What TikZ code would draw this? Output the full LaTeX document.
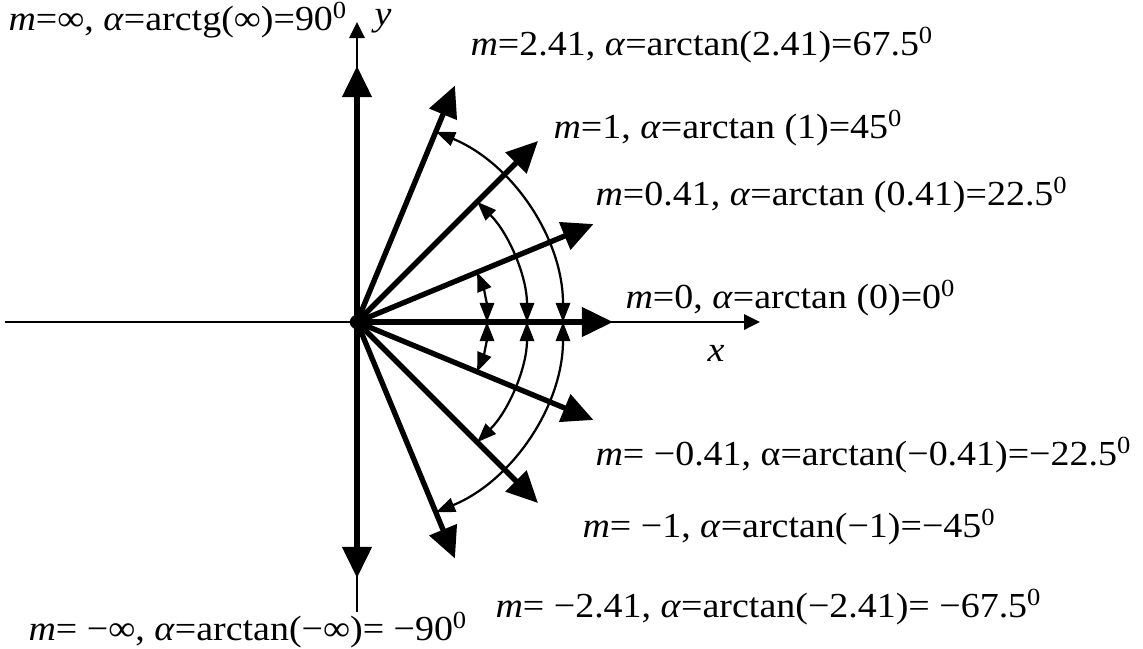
\documentclass[tikz,border=0pt]{standalone}
\usepackage{fontspec}
\setmainfont{Liberation Serif}[FakeStretch=1.08]
\usetikzlibrary{arrows.meta}

\begin{document}
\begin{tikzpicture}[x=1.25cm, y=1.25cm,
  >={Triangle[length=3.9mm, width=3.6mm]},
  rayo/.style={->, line width=1.9pt},
  eje/.style={-{Triangle[length=2mm, width=1.9mm]}, line width=1pt},
  arco/.style={{Triangle[length=2.4mm, width=1.8mm]}-{Triangle[length=2.4mm, width=1.8mm]},
               line width=0.8pt},
  etiq/.style={anchor=west, inner sep=0pt, font=\fontsize{12.5}{14}\selectfont}]

  \useasboundingbox (-3.57,-3.26) rectangle (7.86,3.22);

  \node[circle, fill, minimum size=0.18cm, inner sep=0pt] (O) at (0,0) {};

  % ejes
  \coordinate (xi) at (-3.52,0);
  \coordinate (xf) at (4.03,0);
  \coordinate (yi) at (0,-2.90);
  \coordinate (yf) at (0,3.00);
  \draw[eje] (xi) -- (xf);
  \draw[eje] (yi) -- (yf);
  \node[etiq] (ex) at (3.50,-0.31) {\textit{x}};
  \node[etiq] (ey) at (0.17,3.01) {\textit{y}};

  % rayos
  \coordinate (p90) at (90:2.56);
  \coordinate (p67) at (67.5:2.56);
  \coordinate (p45) at (45:2.56);
  \coordinate (p22) at (22.5:2.56);
  \coordinate (p0) at (0:2.56);
  \coordinate (n22) at (-22.5:2.56);
  \coordinate (n45) at (-45:2.56);
  \coordinate (n67) at (-67.5:2.56);
  \coordinate (n90) at (-90:2.56);
  \draw[rayo] (O.center) -- (p90);
  \draw[rayo] (O.center) -- (p67);
  \draw[rayo] (O.center) -- (p45);
  \draw[rayo] (O.center) -- (p22);
  \draw[rayo] (O.center) -- (p0);
  \draw[rayo] (O.center) -- (n22);
  \draw[rayo] (O.center) -- (n45);
  \draw[rayo] (O.center) -- (n67);
  \draw[rayo] (O.center) -- (n90);

  % arcos
  \coordinate (a1) at (0:1.30);
  \coordinate (a2) at (0:1.70);
  \coordinate (a3) at (0:2.06);
  \draw[arco] (a1) arc[start angle=0, end angle=22.5, radius=1.30];
  \draw[arco] (a1) arc[start angle=0, end angle=-22.5, radius=1.30];
  \draw[arco] (a2) arc[start angle=0, end angle=45, radius=1.70];
  \draw[arco] (a2) arc[start angle=0, end angle=-45, radius=1.70];
  \draw[arco] (a3) arc[start angle=0, end angle=67.5, radius=2.06];
  \draw[arco] (a3) arc[start angle=0, end angle=-67.5, radius=2.06];

  % etiquetas
  \node[etiq] (l90) at (-3.49,3.02)
    {\textit{m}=∞, \textit{α}=arctg(∞)=90\textsuperscript{0}};
  \node[etiq] (l67) at (1.13,2.77)
    {\textit{m}=2.41, \textit{α}=arctan(2.41)=67.5\textsuperscript{0}};
  \node[etiq] (l45) at (1.96,1.94)
    {\textit{m}=1, \textit{α}=arctan (1)=45\textsuperscript{0}};
  \node[etiq] (l22) at (2.38,1.27)
    {\textit{m}=0.41, \textit{α}=arctan (0.41)=22.5\textsuperscript{0}};
  \node[etiq] (l0) at (2.68,0.24)
    {\textit{m}=0, \textit{α}=arctan (0)=0\textsuperscript{0}};
  \node[etiq] (lm22) at (2.38,-1.33)
    {\textit{m}= −0.41, α=arctan(−0.41)=−22.5\textsuperscript{0}};
  \node[etiq] (lm45) at (2.25,-2.05)
    {\textit{m}= −1, \textit{α}=arctan(−1)=−45\textsuperscript{0}};
  \node[etiq] (lm67) at (1.38,-2.85)
    {\textit{m}= −2.41, \textit{α}=arctan(−2.41)= −67.5\textsuperscript{0}};
  \node[etiq] (lm90) at (-3.29,-3.08)
    {\textit{m}= −∞, \textit{α}=arctan(−∞)= −90\textsuperscript{0}};
\end{tikzpicture}
\end{document}
